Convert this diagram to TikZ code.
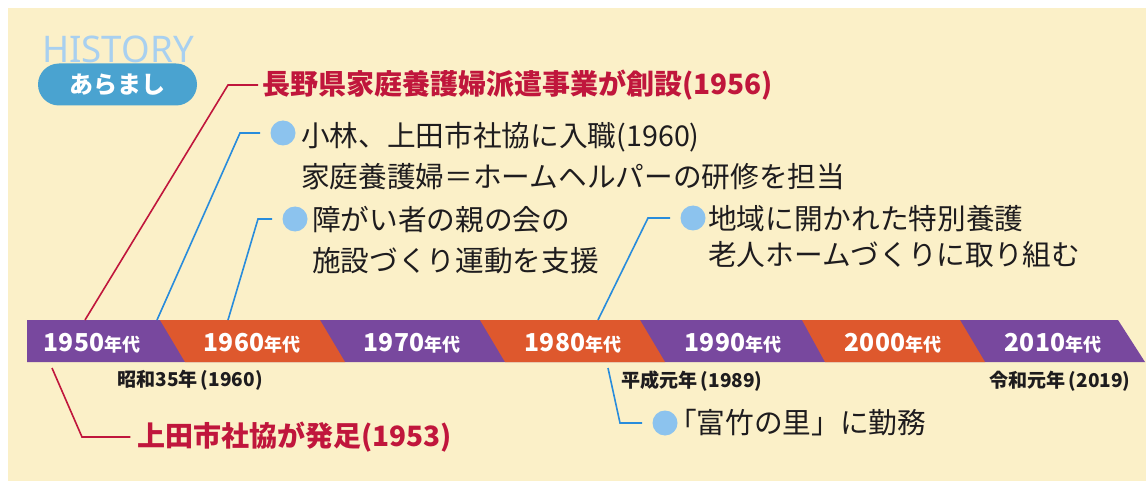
\documentclass[tikz,border=0pt]{standalone}
\usepackage{fontspec}
\setmainfont{Noto Sans CJK JP}
\newfontfamily\latinsans{Noto Sans}
\definecolor{cream}{RGB}{251,240,200}
\definecolor{bandpurple}{RGB}{120,72,158}
\definecolor{bandorange}{RGB}{222,88,45}
\definecolor{crimson}{RGB}{192,22,60}
\definecolor{lineblue}{RGB}{40,140,220}
\definecolor{dotblue}{RGB}{140,195,238}
\definecolor{pillblue}{RGB}{74,163,208}
\definecolor{histblue}{RGB}{168,208,240}
\definecolor{ink}{RGB}{30,28,30}
\newcommand\decadetxt[1]{{\fontsize{18.5}{18}\selectfont\bfseries #1}{\fontsize{13.5}{14}\selectfont\bfseries 年代}}
\begin{document}
\begin{tikzpicture}[x=0.75pt,y=-0.75pt,
  txt/.style={anchor=west,inner sep=0pt,text=ink,align=left},
  redtxt/.style={anchor=west,inner sep=0pt,font=\fontsize{21}{30}\selectfont\bfseries,text=crimson},
  dot/.style={circle,fill=dotblue,minimum size=18.75pt,inner sep=0pt},
  redline/.style={draw=crimson,line width=1.2pt},
  blueline/.style={draw=lineblue,line width=1.2pt},
  decade/.style={text=white,inner sep=0pt},
  era/.style={inner sep=0pt,font=\fontsize{14.3}{15}\selectfont\bfseries,text=ink}]
\useasboundingbox (0,0) rectangle (1146,481);
\fill[white] (0,0) rectangle (1146,481);
\fill[cream] (8,8) rectangle (1146,481);
% header
\node[font=\latinsans\fontsize{27.5}{27}\selectfont,text=histblue,inner sep=0pt] (hist) at (118,49) {HISTORY};
\node[fill=pillblue,rounded corners=15.75pt,minimum width=119.25pt,minimum height=31.5pt,text=white,font=\fontsize{18}{18}\selectfont\bfseries] (pill) at (117.5,84.5) {あらまし};
% band
\fill[bandpurple] (27,320) -- (1118,320) -- (1145,362) -- (27,362) -- cycle;
\fill[bandorange] (160,320) -- (320,320) -- (345,362) -- (185,362) -- cycle;
\fill[bandorange] (480,320) -- (640,320) -- (665,362) -- (505,362) -- cycle;
\fill[bandorange] (802,320) -- (960,320) -- (985,362) -- (825,362) -- cycle;
\node[decade] (d1950) at (92,343) {\decadetxt{1950}};
\node[decade] (d1960) at (252,343) {\decadetxt{1960}};
\node[decade] (d1970) at (412,343) {\decadetxt{1970}};
\node[decade] (d1980) at (573,343) {\decadetxt{1980}};
\node[decade] (d1990) at (733,343) {\decadetxt{1990}};
\node[decade] (d2000) at (893,343) {\decadetxt{2000}};
\node[decade] (d2010) at (1053,343) {\decadetxt{2010}};
\node[era] (e1960) at (190,380) {昭和35年\,(1960)};
\node[era] (e1989) at (692,381) {平成元年\,(1989)};
\node[era] (e2019) at (1060,381) {令和元年\,(2019)};
% connector anchors on the band
\coordinate (r1s) at (85,320);
\coordinate (b1s) at (157,320);
\coordinate (b2s) at (228,320);
\coordinate (b3s) at (598,320);
\coordinate (r2s) at (52,368);
\coordinate (b4s) at (608,368);
% events
\node[redtxt] (t1956) at (262,85) {長野県家庭養護婦派遣事業が創設(1956)};
\draw[redline] (r1s) -- (228,85) -- ([xshift=-3pt]t1956.west);

\node[dot] (p1960) at (283,133) {};
\node[txt,font=\fontsize{21.5}{30.75}\selectfont] (t1960) at (301,156) {小林、上田市社協に入職(1960)\\家庭養護婦＝ホームヘルパーの研修を担当};
\draw[blueline] (b1s) -- (240,133) -- ([xshift=-7.5pt]p1960.west);

\node[dot] (p2) at (295,219) {};
\node[txt,font=\fontsize{21.5}{30.4}\selectfont] (t2) at (312,240) {障がい者の親の会の\\施設づくり運動を支援};
\draw[blueline] (b2s) -- (258,219) -- ([xshift=-7.5pt]p2.west);

\node[dot] (p3) at (693,218) {};
\node[txt,font=\fontsize{21.5}{27}\selectfont] (t3) at (708,237) {地域に開かれた特別養護\\老人ホームづくりに取り組む};
\draw[blueline] (b3s) -- (648,218) -- ([xshift=-7.5pt]p3.west);

\node[dot] (p4) at (665,423) {};
\node[txt,font=\fontsize{21.5}{30}\selectfont] (t4) at (668,423) {「富竹の里」に勤務};
\draw[blueline] (b4s) -- (620,423) -- ([xshift=-7.5pt]p4.west);

\node[redtxt] (t1953) at (137,437) {上田市社協が発足(1953)};
\draw[redline] (r2s) -- (82,437) -- ([xshift=-5pt]t1953.west);
\end{tikzpicture}
\end{document}
